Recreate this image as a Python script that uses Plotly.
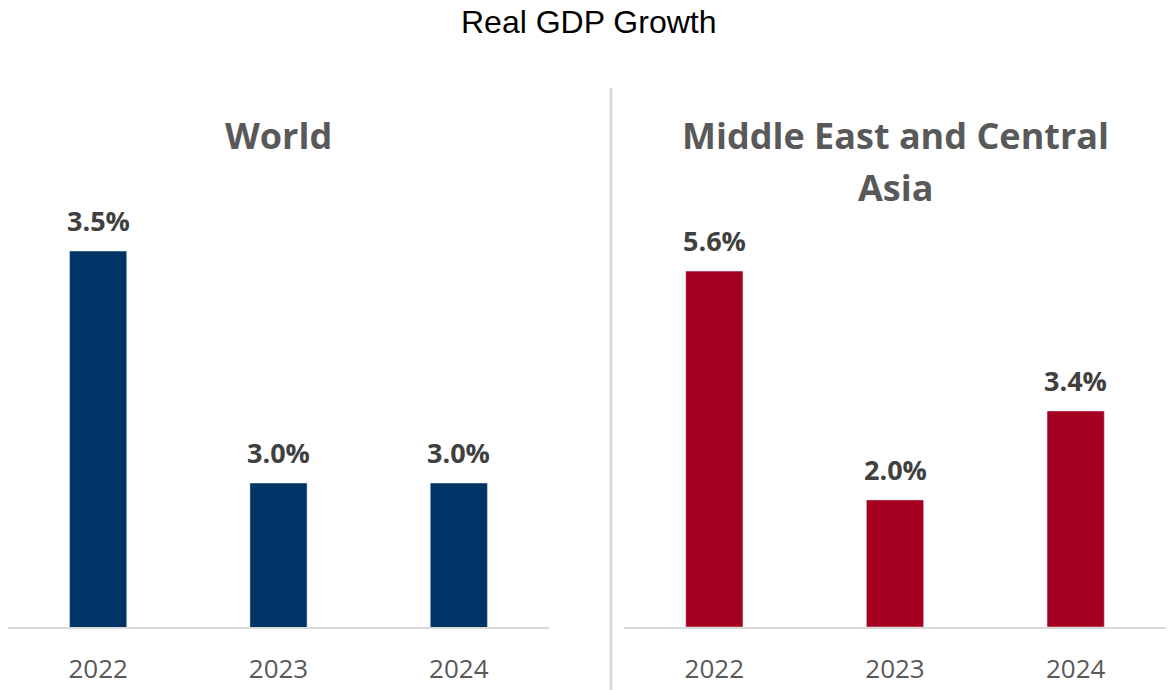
import plotly.graph_objects as go

years = ["2022", "2023", "2024"]
world_growth = [3.5, 3.0, 3.0]
meca_growth = [5.6, 2.0, 3.4]
world_title_lines = ["World"]
meca_title_lines = ["Middle East and Central", "Asia"]
chart_title = "Real GDP Growth"

W, H = 1168, 690
world_color = "#003366"
meca_color = "#A50021"
label_font = dict(family="Open Sans", size=27, color="#404040")
tick_font = dict(family="Open Sans", size=26, color="#595959")
panel_font = dict(family="Open Sans", size=36, color="#595959")

fig = go.Figure()

fig.add_trace(go.Bar(x=years, y=world_growth, marker_color=world_color, width=0.317,
                     xaxis="x", yaxis="y", hoverinfo="skip", showlegend=False))
fig.add_trace(go.Bar(x=years, y=meca_growth, marker_color=meca_color, width=0.317,
                     xaxis="x2", yaxis="y2", hoverinfo="skip", showlegend=False))

ydom = [63 / H, (H - 150) / H]
plot_h = 477
world_range = [2.6897, 2.6897 + plot_h / 464.0]
meca_range = [0, plot_h / 63.55]

xaxis_common = dict(type="category", range=[-0.5, 2.5], showline=True, linecolor="#d9d9d9",
                    linewidth=2, showgrid=False, zeroline=False, ticks="",
                    tickfont=tick_font, ticklabelstandoff=18, fixedrange=True)
yaxis_common = dict(visible=False, showgrid=False, zeroline=False, fixedrange=True)

fig.update_layout(
    width=W, height=H,
    margin=dict(l=0, r=0, t=0, b=0),
    paper_bgcolor="white", plot_bgcolor="white",
    xaxis=dict(domain=[8 / W, 549 / W], anchor="y", **xaxis_common),
    xaxis2=dict(domain=[624 / W, 1166 / W], anchor="y2", **xaxis_common),
    yaxis=dict(domain=ydom, anchor="x", range=world_range, **yaxis_common),
    yaxis2=dict(domain=ydom, anchor="x2", range=meca_range, **yaxis_common),
    bargap=0.68,
)

annotations = []
for i, v in enumerate(world_growth):
    annotations.append(dict(x=i, y=v, xref="x", yref="y", text=f"<b>{v:.1f}%</b>",
                            showarrow=False, yanchor="bottom", yshift=10, font=label_font))
for i, v in enumerate(meca_growth):
    annotations.append(dict(x=i, y=v, xref="x2", yref="y2", text=f"<b>{v:.1f}%</b>",
                            showarrow=False, yanchor="bottom", yshift=10, font=label_font))

annotations.append(dict(x=589 / W, y=1 - 22 / H, xref="paper", yref="paper", text=chart_title,
                        showarrow=False, xanchor="center", yanchor="middle",
                        font=dict(family="Liberation Sans", size=32, color="#000000")))
for k, line in enumerate(world_title_lines):
    annotations.append(dict(x=(8 + 549) / 2 / W, y=1 - (135 + 52 * k) / H, xref="paper",
                            yref="paper", text=f"<b>{line}</b>", showarrow=False,
                            xanchor="center", yanchor="middle", font=panel_font))
for k, line in enumerate(meca_title_lines):
    annotations.append(dict(x=(624 + 1166) / 2 / W, y=1 - (135 + 52 * k) / H, xref="paper",
                            yref="paper", text=f"<b>{line}</b>", showarrow=False,
                            xanchor="center", yanchor="middle", font=panel_font))
fig.update_layout(annotations=annotations)

fig.add_shape(type="line", xref="paper", yref="paper", x0=611 / W, x1=611 / W,
              y0=0, y1=1 - 88 / H, line=dict(color="#d9d9d9", width=3))

fig.write_html("out.html")
